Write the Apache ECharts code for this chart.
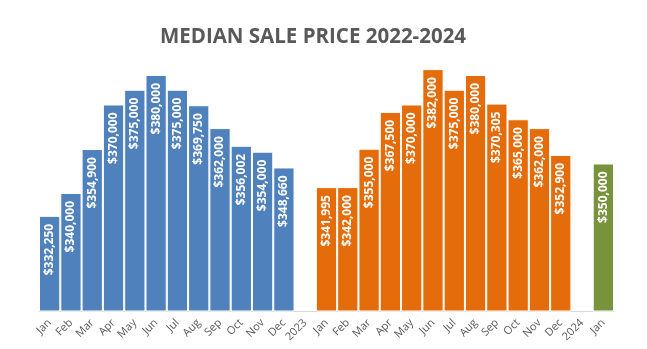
<!DOCTYPE html>
<html>
<head>
<meta charset="utf-8">
<script src="https://cdn.jsdelivr.net/npm/echarts@6/dist/echarts.min.js"></script>
<style>
  html, body { margin: 0; padding: 0; background: #fff; }
  #chart { width: 647px; height: 349px; }
</style>
</head>
<body>
<div id="chart"></div>
<script>
// Monthly median sale prices; the year markers are empty gap columns.
const categories = ['Jan','Feb','Mar','Apr','May','Jun','Jul','Aug','Sep','Oct','Nov','Dec','2023',
                    'Jan','Feb','Mar','Apr','May','Jun','Jul','Aug','Sep','Oct','Nov','Dec','2024',
                    'Jan'];
const prices2022 = [332250, 340000, 354900, 370000, 375000, 380000, 375000, 369750, 362000, 356002, 354000, 348660];
const prices2023 = [341995, 342000, 355000, 367500, 370000, 382000, 375000, 380000, 370305, 365000, 362000, 352900];
const prices2024 = [350000];

const colors = { y2022: '#4F81BD', y2023: '#E46C0A', y2024: '#77933C' };

const data = [];
prices2022.forEach(v => data.push({ value: v, itemStyle: { color: colors.y2022 } }));
data.push('-');
prices2023.forEach(v => data.push({ value: v, itemStyle: { color: colors.y2023 } }));
data.push('-');
prices2024.forEach(v => data.push({ value: v, itemStyle: { color: colors.y2024 } }));

const fmt = v => '$' + v.toLocaleString('en-US');

const chart = echarts.init(document.getElementById('chart'));
chart.setOption({
  animation: false,
  title: {
    text: 'MEDIAN SALE PRICE 2022-2024',
    left: 308, top: 22, textAlign: 'center',
    textStyle: { fontFamily: 'Open Sans', fontWeight: 'bold', fontSize: 20.5, color: '#595959' }
  },
  grid: { left: 39, right: 33, top: 16, bottom: 38 },
  xAxis: {
    type: 'category',
    data: categories,
    axisLine: { lineStyle: { color: '#D9D9D9' } },
    axisTick: { show: false },
    axisLabel: {
      rotate: 45, interval: 0, color: '#595959',
      fontFamily: 'Open Sans', fontSize: 11, margin: 10
    }
  },
  yAxis: { type: 'value', min: 300000, max: 400000, show: false, splitLine: { show: false } },
  series: [{
    type: 'bar',
    data: data,
    barCategoryGap: '0%',
    itemStyle: { borderColor: '#fff', borderWidth: 1 },
    label: {
      show: true,
      position: 'insideTop',
      distance: 8,
      rotate: 90,
      align: 'right',
      verticalAlign: 'middle',
      color: '#fff',
      fontFamily: 'Open Sans',
      fontWeight: 'bold',
      fontSize: 12,
      formatter: p => fmt(p.value)
    }
  }]
});
</script>
</body>
</html>
